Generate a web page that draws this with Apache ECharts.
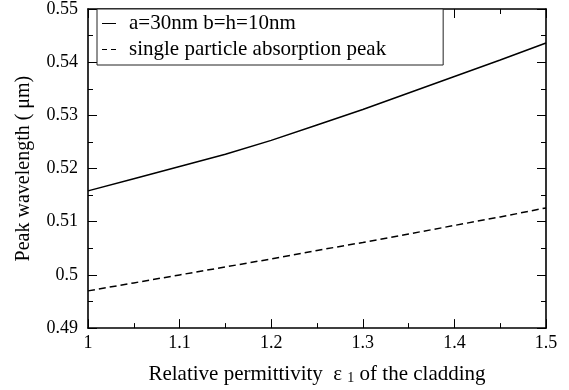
<!DOCTYPE html>
<html>
<head>
<meta charset="utf-8">
<script src="https://cdn.jsdelivr.net/npm/echarts@6/dist/echarts.min.js"></script>
<style>
  html, body { margin: 0; padding: 0; background: #fff; }
  #chart { width: 569px; height: 390px; }
</style>
</head>
<body>
<div id="chart"></div>
<script>
// Relative permittivity of the cladding (x values)
const permittivity = [1.00, 1.05, 1.10, 1.15, 1.20, 1.25, 1.30, 1.35, 1.40, 1.45, 1.50];
// Peak wavelength (µm) for the coupled a=30nm b=h=10nm structure
const coupledPeak = [0.5158, 0.5181, 0.5204, 0.5227, 0.5253, 0.5282, 0.5311, 0.5342, 0.5373, 0.5404, 0.5436];
// Peak wavelength (µm) of the single particle absorption
const singlePeak = [0.4970, 0.4985, 0.5000, 0.5015, 0.5030, 0.5046, 0.5061, 0.5077, 0.5093, 0.5109, 0.5126];

const seriesNames = ['a=30nm b=h=10nm', 'single particle absorption peak'];
const xRange = { min: 1, max: 1.5, step: 0.1 };
const yRange = { min: 0.49, max: 0.55, step: 0.01 };

const FONT = "'Liberation Serif', 'Times New Roman', serif";

// legend keys: a solid stroke and a two-dash stroke
const SOLID_KEY = 'path://M0,0h14v1h-14z';
const DASHED_KEY = 'path://M0,0h5v1h-5zM9,0h5v1h-5z';

const pairs = (xs, ys) => xs.map((x, i) => [x, ys[i]]);

const tickStyle = {
  show: true, inside: true, length: 9,
  lineStyle: { color: '#000', width: 1 }
};
const minorStyle = {
  show: true, splitNumber: 2, length: 5,
  lineStyle: { color: '#000', width: 1 }
};
const lineStyleAxis = { show: true, lineStyle: { color: '#000', width: 1.6 } };

const chart = echarts.init(document.getElementById('chart'), null, { renderer: 'canvas' });

chart.setOption({
  backgroundColor: '#fff',
  animation: false,
  grid: { left: 88, right: 23, top: 9, bottom: 60, containLabel: false },
  legend: {
    orient: 'vertical',
    left: 97,
    top: 9,
    padding: [4, 57, 5, 5],
    itemGap: 5,
    itemWidth: 14,
    itemHeight: 1.6,
    borderColor: '#222',
    borderWidth: 1,
    backgroundColor: '#fff',
    data: [
      { name: seriesNames[0], icon: SOLID_KEY },
      { name: seriesNames[1], icon: DASHED_KEY }
    ],
    itemStyle: { color: '#000', borderWidth: 0 },
    textStyle: {
      fontFamily: FONT, fontSize: 21, color: '#000',
      lineHeight: 20, padding: [0, 0, 0, 8]
    }
  },
  xAxis: [
    {
      type: 'value', min: xRange.min, max: xRange.max, interval: xRange.step,
      position: 'bottom',
      axisLine: lineStyleAxis, axisTick: tickStyle, minorTick: minorStyle,
      splitLine: { show: false },
      axisLabel: {
        fontFamily: FONT, fontSize: 18, color: '#000', margin: 6,
        formatter: v => String(+v.toFixed(2))
      },
      name: '{n|Relative permittivity  ε }{s|1}{n| of the cladding}',
      nameLocation: 'middle',
      nameGap: 28,
      nameTextStyle: {
        rich: {
          n: { fontFamily: FONT, fontSize: 21, color: '#000', lineHeight: 22 },
          s: { fontFamily: FONT, fontSize: 14, color: '#000', verticalAlign: 'bottom', lineHeight: 14, padding: [14, 0, 0, 0] }
        }
      }
    },
    {
      type: 'value', min: xRange.min, max: xRange.max, interval: xRange.step,
      position: 'top',
      axisLine: lineStyleAxis, axisTick: tickStyle, minorTick: minorStyle,
      splitLine: { show: false }, axisLabel: { show: false }
    }
  ],
  yAxis: [
    {
      type: 'value', min: yRange.min, max: yRange.max, interval: yRange.step,
      position: 'left',
      axisLine: lineStyleAxis, axisTick: tickStyle, minorTick: minorStyle,
      splitLine: { show: false },
      axisLabel: {
        fontFamily: FONT, fontSize: 18, color: '#000', margin: 10,
        formatter: v => String(+v.toFixed(3))
      },
      name: 'Peak wavelength ( μm)',
      nameLocation: 'middle',
      nameGap: 54,
      nameTextStyle: { fontFamily: FONT, fontSize: 20, color: '#000' }
    },
    {
      type: 'value', min: yRange.min, max: yRange.max, interval: yRange.step,
      position: 'right',
      axisLine: lineStyleAxis, axisTick: tickStyle, minorTick: minorStyle,
      splitLine: { show: false }, axisLabel: { show: false }
    }
  ],
  series: [
    {
      name: seriesNames[0], type: 'line', xAxisIndex: 0, yAxisIndex: 0,
      data: pairs(permittivity, coupledPeak),
      showSymbol: false,
      lineStyle: { color: '#000', width: 1.5, type: 'solid' },
      itemStyle: { color: '#000' }
    },
    {
      name: seriesNames[1], type: 'line', xAxisIndex: 0, yAxisIndex: 0,
      data: pairs(permittivity, singlePeak),
      showSymbol: false,
      lineStyle: { color: '#000', width: 1.5, type: [7, 4] },
      itemStyle: { color: '#000' }
    }
  ]
});
</script>
</body>
</html>
